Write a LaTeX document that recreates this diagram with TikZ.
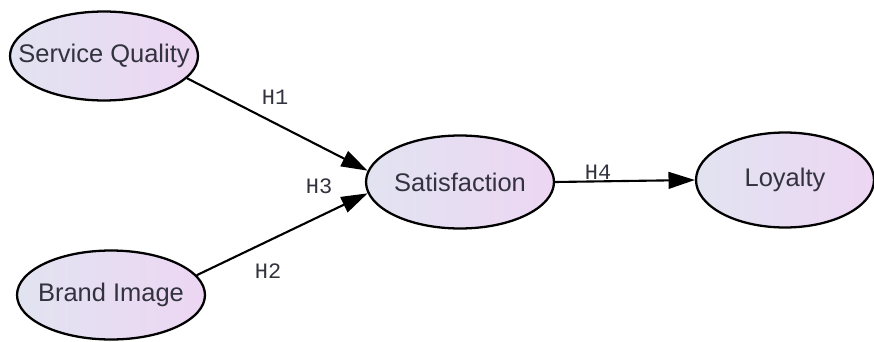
\documentclass[tikz,border=0pt]{standalone}
\usepackage{fontspec}
\setmainfont{Liberation Sans}
\newfontfamily\hypfont{Liberation Mono}
\usepackage{tikz}
\usetikzlibrary{shapes.geometric, arrows.meta, positioning, calc}
\definecolor{ellleft}{HTML}{E2E3F1}
\definecolor{ellright}{HTML}{EDD6F3}
\definecolor{labeltext}{HTML}{33333F}
\newcommand{\ctext}[1]{\makebox[0pt][c]{#1}}

\begin{document}
\begin{tikzpicture}[
    x=0.02cm, y=-0.02cm,
    construct/.style={ellipse, draw=black, line width=1.3pt, left color=ellleft, right color=ellright, minimum width=3.76cm, minimum height=1.78cm, inner sep=0pt, text=labeltext, font=\fontsize{14.5}{16}\selectfont},
    hyp/.style={text=labeltext, font=\hypfont\fontsize{12.5}{14}\selectfont, inner sep=1pt},
    arrow/.style={-{Triangle[length=15pt, width=9.5pt]}, line width=1.2pt, color=black}
]
    \useasboundingbox (0,0) rectangle (874,341);

    \node[construct] (sq) at (104,56) {\ctext{Service Quality}};
    \node[construct] (bi) at (111,295) {\ctext{Brand Image}};
    \node[construct, minimum height=1.86cm] (sat) at (460,182) {\ctext{Satisfaction}};
    \node[construct, minimum width=3.56cm, minimum height=1.9cm] (loy) at (785,180) {\ctext{Loyalty}};

    \draw[arrow] (sq.-15) -- (sat.173);
    \draw[arrow] (bi.13) -- (sat.187);
    \draw[arrow] (sat.east) -- (loy.west);

    \node[hyp] (h1) at (275,97) {H1};
    \node[hyp] (h3) at (319,186) {H3};
    \node[hyp] (h2) at (268,271) {H2};
    \node[hyp] (h4) at (598,172) {H4};
\end{tikzpicture}
\end{document}
